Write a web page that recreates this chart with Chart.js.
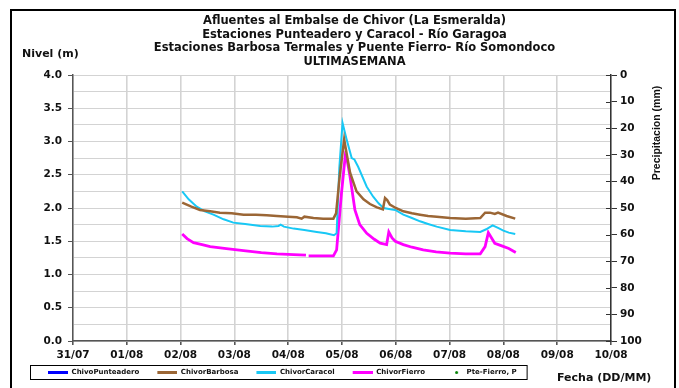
<!DOCTYPE html>
<html>
<head>
<meta charset="utf-8">
<script src="https://cdn.jsdelivr.net/npm/chart.js@4.4.0/dist/chart.umd.min.js"></script>
<style>
  html, body { margin: 0; padding: 0; background: #fff; overflow: hidden; }
  #wrap { position: relative; width: 679px; height: 388px; }
  #frame { position: absolute; left: 10px; top: 9px; width: 662px; height: 400px; border: 2.5px solid #000; pointer-events: none; }
</style>
</head>
<body>
<div id="wrap">
  <canvas id="chart"></canvas>
  <div id="frame"></div>
</div>
<script>
// dates on the x axis, one per day from 31/07
const dateLabels = ['31/07', '01/08', '02/08', '03/08', '04/08', '05/08', '06/08', '07/08', '08/08', '09/08', '10/08']

const titleLines = [
  'Afluentes al Embalse de Chivor (La Esmeralda)',
  'Estaciones Punteadero y Caracol - Río Garagoa',
  'Estaciones Barbosa Termales y Puente Fierro- Río Somondoco',
  'ULTIMASEMANA',
]
const levelTitle = 'Nivel (m)'
const dateTitle = 'Fecha (DD/MM)'
const precipTitle = 'Precipitacion (mm)'

// time in days after 31/07 00:00, level in m
const caracolDays = [2.03, 2.15, 2.30, 2.45, 2.61, 2.80, 2.98, 3.20, 3.48, 3.70, 3.82, 3.86, 3.92, 4.10, 4.30, 4.53, 4.70, 4.85, 4.90, 4.95, 5.01, 5.08, 5.18, 5.23, 5.30, 5.46, 5.58, 5.68, 5.77, 5.90, 5.99, 6.14, 6.30, 6.45, 6.60, 6.76, 7.01, 7.30, 7.57, 7.68, 7.80, 7.90, 8.00, 8.10, 8.22]
const caracolLevel = [2.25, 2.13, 2.02, 1.95, 1.90, 1.83, 1.78, 1.76, 1.73, 1.72, 1.73, 1.75, 1.72, 1.69, 1.67, 1.64, 1.62, 1.59, 1.62, 2.60, 3.28, 3.05, 2.75, 2.73, 2.62, 2.32, 2.17, 2.07, 2.00, 1.98, 1.97, 1.90, 1.85, 1.80, 1.76, 1.72, 1.67, 1.65, 1.64, 1.68, 1.74, 1.70, 1.66, 1.63, 1.61]

const barbosaDays = [2.03, 2.20, 2.36, 2.55, 2.73, 2.95, 3.17, 3.40, 3.60, 3.79, 4.00, 4.16, 4.25, 4.30, 4.47, 4.65, 4.84, 4.89, 4.96, 5.04, 5.09, 5.15, 5.27, 5.40, 5.52, 5.65, 5.76, 5.80, 5.84, 5.89, 6.00, 6.14, 6.30, 6.45, 6.60, 6.76, 7.01, 7.30, 7.57, 7.66, 7.75, 7.84, 7.90, 8.06, 8.22]
const barbosaLevel = [2.08, 2.02, 1.97, 1.95, 1.93, 1.92, 1.90, 1.90, 1.89, 1.88, 1.87, 1.86, 1.84, 1.87, 1.85, 1.84, 1.84, 1.92, 2.50, 3.03, 2.80, 2.53, 2.25, 2.13, 2.06, 2.01, 1.98, 2.15, 2.12, 2.05, 2.00, 1.95, 1.92, 1.90, 1.88, 1.87, 1.85, 1.84, 1.85, 1.93, 1.93, 1.91, 1.93, 1.88, 1.84]

const fierroDays = [2.03, 2.12, 2.24, 2.40, 2.55, 2.85, 3.17, 3.50, 3.79, 4.10, 4.33, 4.35, 4.38, 4.60, 4.84, 4.90, 4.99, 5.06, 5.10, 5.15, 5.24, 5.33, 5.46, 5.60, 5.71, 5.83, 5.87, 5.93, 5.99, 6.14, 6.30, 6.51, 6.75, 7.01, 7.30, 7.57, 7.66, 7.72, 7.78, 7.84, 7.97, 8.10, 8.23]
const fierroLevel = [1.61, 1.54, 1.48, 1.45, 1.42, 1.39, 1.36, 1.33, 1.31, 1.30, 1.29, null, 1.28, 1.28, 1.28, 1.37, 2.22, 2.78, 2.70, 2.47, 1.97, 1.75, 1.62, 1.53, 1.47, 1.45, 1.64, 1.55, 1.50, 1.45, 1.41, 1.37, 1.34, 1.32, 1.31, 1.31, 1.42, 1.63, 1.55, 1.47, 1.43, 1.39, 1.33]

// no readings shown for these two
const punteaderoDays = []
const punteaderoLevel = []
const rainDays = []
const rainMm = []

const points = (xs, ys) => xs.map((x, i) => ({ x, y: ys[i] }))

// legend swatch: 30px wide, mark sits in the right-hand part
function sample(color, dot) {
  const c = document.createElement('canvas')
  c.width = 30
  c.height = 3
  const g = c.getContext('2d')
  g.fillStyle = color
  if (dot) {
    g.beginPath()
    g.arc(23.5, 1.5, 1.5, 0, Math.PI * 2)
    g.fill()
  } else {
    g.fillRect(10, 0, 20, 3)
  }
  return c
}

const datasets = [
  { label: 'ChivoPunteadero', data: points(punteaderoDays, punteaderoLevel), borderColor: '#0000ff', borderWidth: 2, yAxisID: 'y', legendSample: sample('#0000ff') },
  { label: 'ChivorBarbosa', data: points(barbosaDays, barbosaLevel), borderColor: '#9b6635', borderWidth: 2.5, yAxisID: 'y', legendSample: sample('#9b6635') },
  { label: 'ChivorCaracol', data: points(caracolDays, caracolLevel), borderColor: '#18c8f5', borderWidth: 2, yAxisID: 'y', legendSample: sample('#18c8f5') },
  { label: 'ChivorFierro', data: points(fierroDays, fierroLevel), borderColor: '#ff00ff', borderWidth: 2.8, yAxisID: 'y', legendSample: sample('#ff00ff') },
  { label: 'Pte-Fierro, P', data: points(rainDays, rainMm), borderColor: '#008000', backgroundColor: '#008000', showLine: false, yAxisID: 'yPrecip', legendSample: sample('#008000', true) },
]

const extras = {
  id: 'extras',
  afterDraw(chart) {
    const ctx = chart.ctx
    ctx.save()
    ctx.fillStyle = '#111'
    ctx.textBaseline = 'middle'
    ctx.textAlign = 'left'
    ctx.font = 'bold 11px "DejaVu Sans"'
    ctx.fillText(levelTitle, 22, 54)
    ctx.fillText(dateTitle, 557, 378)

    // legend frame
    const hb = chart.legend.legendHitBoxes
    const last = hb[hb.length - 1]
    ctx.strokeStyle = '#000'
    ctx.lineWidth = 1
    ctx.strokeRect(30.5, Math.round(hb[0].top) - 3.5, last.left + last.width + 10 - 30, hb[0].height + 7)

    // inner half of the precipitation ticks
    const ps = chart.scales.yPrecip
    ctx.strokeStyle = '#333'
    ctx.beginPath()
    ps.ticks.forEach(t => {
      const y = Math.round(ps.getPixelForValue(t.value)) + 0.5
      ctx.moveTo(ps.left - 5, y)
      ctx.lineTo(ps.left, y)
    })
    ctx.stroke()

    ctx.translate(657, 133)
    ctx.rotate(-Math.PI / 2)
    ctx.textAlign = 'center'
    ctx.font = 'bold 10.5px "Liberation Sans"'
    ctx.fillText(precipTitle, 0, 0)
    ctx.restore()
  },
}

Chart.defaults.font.family = '"DejaVu Sans"'
Chart.defaults.color = '#111'

new Chart('chart', {
  type: 'line',
  data: { datasets },
  options: {
    responsive: true,
    maintainAspectRatio: false,
    animation: false,
    parsing: false,
    spanGaps: false,
    layout: { padding: { left: 30, right: 0, top: 0, bottom: 2 } },
    elements: { point: { radius: 0 }, line: { tension: 0 } },
    plugins: {
      tooltip: { enabled: false },
      title: {
        display: true,
        text: titleLines,
        color: '#111',
        font: { size: 11.5, weight: 'bold', lineHeight: '13.7px' },
        padding: { top: 14, bottom: 6.2 },
      },
      legend: {
        position: 'bottom',
        align: 'start',
        labels: {
          usePointStyle: true,
          pointStyleWidth: 30,
          boxHeight: 7,
          padding: 8,
          color: '#111',
          font: { size: 7, weight: 'bold' },
          generateLabels: chart => chart.data.datasets.map((ds, i) => ({
            text: ds.label,
            pointStyle: ds.legendSample,
            fillStyle: ds.borderColor,
            strokeStyle: ds.borderColor,
            lineWidth: 0,
            hidden: false,
            datasetIndex: i,
            fontColor: '#111',
          })),
        },
      },
    },
    scales: {
      x: {
        type: 'linear',
        min: 0,
        max: 10,
        afterFit: s => { s.height = 20 },
        ticks: {
          stepSize: 1,
          autoSkip: false,
          maxRotation: 0,
          padding: 4,
          font: { size: 10.5, weight: 'bold' },
          callback: v => dateLabels[Math.round(v)],
        },
        grid: { color: '#d3d3d3', lineWidth: 1.6, tickLength: 4, tickColor: '#555' },
        border: { color: '#555', width: 1.5 },
      },
      y: {
        position: 'left',
        min: 0,
        max: 4,
        afterFit: s => { s.width = 43 },
        ticks: {
          stepSize: 0.25,
          autoSkip: false,
          padding: 6,
          font: { size: 10.5, weight: 'bold' },
          callback: v => (Math.abs(v * 2 - Math.round(v * 2)) < 1e-6 ? v.toFixed(1) : ''),
        },
        grid: {
          color: '#d3d3d3',
          lineWidth: 1,
          tickLength: 5,
          tickColor: c => (Math.abs(c.tick.value * 2 - Math.round(c.tick.value * 2)) < 1e-6 ? '#555' : 'rgba(0,0,0,0)'),
        },
        border: { color: '#555', width: 1.5 },
      },
      yPrecip: {
        position: 'right',
        min: 0,
        max: 100,
        reverse: true,
        afterFit: s => { s.width = 68 },
        ticks: { stepSize: 10, autoSkip: false, padding: 3, font: { size: 10.5, weight: 'bold' } },
        grid: { drawOnChartArea: false, tickLength: 6, tickColor: '#333' },
        border: { color: '#333', width: 1.5 },
      },
    },
  },
  plugins: [extras],
})
</script>
</body>
</html>
